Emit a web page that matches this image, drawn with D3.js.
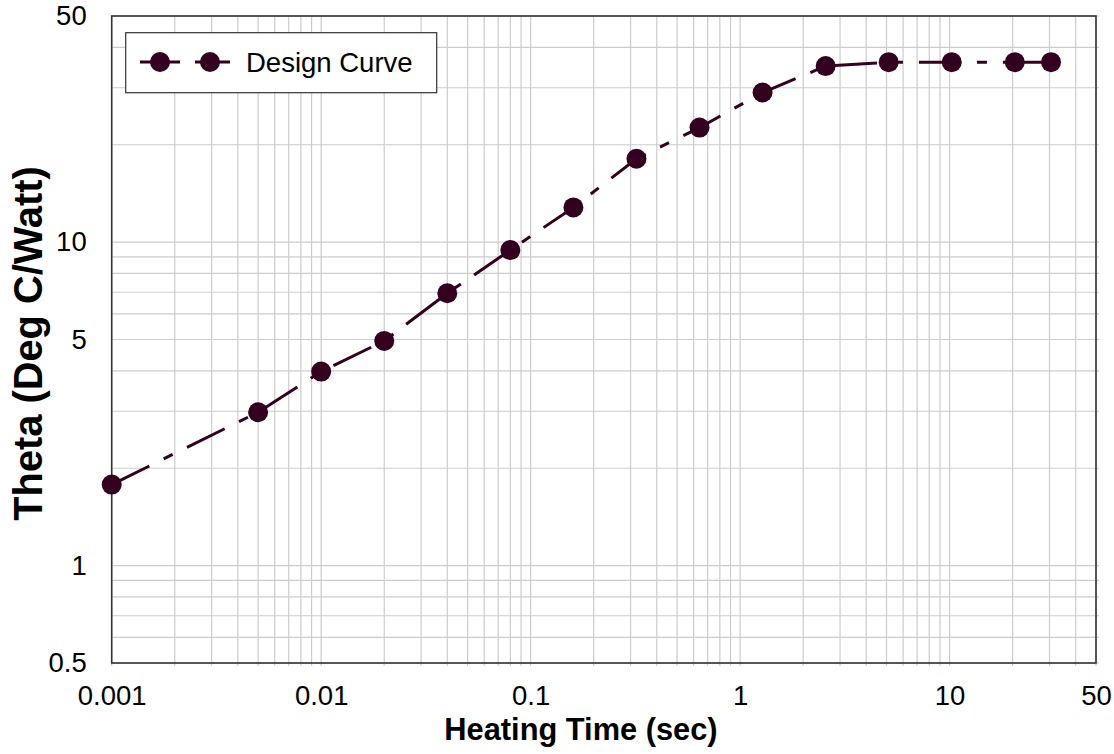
<!DOCTYPE html>
<html>
<head>
<meta charset="utf-8">
<script src="https://cdn.jsdelivr.net/npm/d3@7"></script>
<style>
  body { margin: 0; background: #fff; }
  svg { display: block; font-family: "Liberation Sans", Arial, sans-serif; }
</style>
</head>
<body>
<svg id="chart" width="1114" height="754"></svg>
<script>
// data
var heatingTime = [0.001, 0.005, 0.01, 0.02, 0.04, 0.08, 0.16, 0.32, 0.64, 1.28, 2.56, 5.12, 10.24, 20.48, 30.5];
var theta = [1.78, 2.98, 3.98, 4.95, 6.95, 9.45, 12.8, 18.1, 22.6, 29.0, 35.0, 36.0, 36.0, 36.0, 36.0];

var xTicks = [0.001, 0.01, 0.1, 1, 10, 50];
var yTicks = [0.5, 1, 5, 10, 50];
var xLabel = "Heating Time (sec)";
var yLabel = "Theta (Deg C/Watt)";
var seriesName = "Design Curve";

var plot = { left: 111.7, right: 1096, top: 16, bottom: 663 };
var ink = "#33001f";

var svg = d3.select("#chart");

var x = d3.scaleLog().domain([0.001, 50]).range([plot.left, plot.right]);
var y = d3.scaleLog().domain([0.5, 50]).range([plot.bottom, plot.top]);

// every 1..9 multiple inside the domain
var logGrid = function(domain) {
  var out = [];
  var lo = Math.floor(Math.log10(domain[0]));
  var hi = Math.ceil(Math.log10(domain[1]));
  for (var e = lo; e <= hi; e++) {
    for (var m = 1; m < 10; m++) {
      var v = +(m * Math.pow(10, e)).toPrecision(6);
      if (v >= domain[0] && v <= domain[1]) { out.push(v); }
    }
  }
  return out;
};

var grid = svg.append("g").attr("class", "grid")
  .attr("stroke", "#cccccc")
  .attr("stroke-width", 1.2);

grid.selectAll(".gx")
  .data(logGrid(x.domain()))
  .enter()
  .append("line")
  .attr("x1", function(d) { return x(d); })
  .attr("x2", function(d) { return x(d); })
  .attr("y1", plot.top)
  .attr("y2", plot.bottom + 3);

grid.selectAll(".gy")
  .data(logGrid(y.domain()))
  .enter()
  .append("line")
  .attr("x1", plot.left)
  .attr("x2", plot.right + 3)
  .attr("y1", function(d) { return y(d); })
  .attr("y2", function(d) { return y(d); });

// frame
svg.append("rect")
  .attr("x", plot.left)
  .attr("y", plot.top)
  .attr("width", plot.right - plot.left)
  .attr("height", plot.bottom - plot.top)
  .attr("fill", "none")
  .attr("stroke", "#333")
  .attr("stroke-width", 1.6);

// axes (labels only)
var fmt = function(d) { return String(d); };

var xAxis = svg.append("g")
  .attr("transform", "translate(0," + plot.bottom + ")")
  .call(d3.axisBottom(x).tickValues(xTicks).tickFormat(fmt).tickSize(0).tickPadding(22));

var yAxis = svg.append("g")
  .attr("transform", "translate(" + plot.left + ",0)")
  .call(d3.axisLeft(y).tickValues(yTicks).tickFormat(fmt).tickSize(0).tickPadding(25));

[xAxis, yAxis].forEach(function(a) {
  a.select(".domain").remove();
  a.selectAll("text")
    .attr("font-family", "'Liberation Sans', Arial, sans-serif")
    .attr("font-size", 27.5)
    .attr("fill", "#000");
});

// axis titles
svg.append("text")
  .attr("x", 581)
  .attr("y", 740)
  .attr("text-anchor", "middle")
  .attr("font-size", 30.8)
  .attr("font-weight", "bold")
  .text(xLabel);

svg.append("text")
  .attr("transform", "translate(42,343.5) rotate(-90)")
  .attr("text-anchor", "middle")
  .attr("font-size", 39.8)
  .attr("font-weight", "bold")
  .text(yLabel);

// series
var data = heatingTime.map(function(t, i) { return { t: t, v: theta[i] }; });

var line = d3.line()
  .x(function(d) { return x(d.t); })
  .y(function(d) { return y(d.v); });

svg.append("path")
  .datum(data)
  .attr("d", line)
  .attr("fill", "none")
  .attr("stroke", ink)
  .attr("stroke-width", 3)
  .attr("stroke-dasharray", "42,16,10,16");

svg.selectAll(".pt")
  .data(data)
  .enter()
  .append("circle")
  .attr("class", "pt")
  .attr("cx", function(d) { return x(d.t); })
  .attr("cy", function(d) { return y(d.v); })
  .attr("r", 10)
  .attr("fill", ink);

// legend
var legend = svg.append("g").attr("class", "legend");

legend.append("rect")
  .attr("x", 125.7)
  .attr("y", 32.7)
  .attr("width", 311)
  .attr("height", 60)
  .attr("fill", "#fff")
  .attr("stroke", "#333")
  .attr("stroke-width", 1.2);

legend.append("line")
  .attr("x1", 140)
  .attr("x2", 230)
  .attr("y1", 62)
  .attr("y2", 62)
  .attr("stroke", ink)
  .attr("stroke-width", 3)
  .attr("stroke-dasharray", "40,15");

legend.selectAll(".lpt")
  .data([160, 210])
  .enter()
  .append("circle")
  .attr("cx", function(d) { return d; })
  .attr("cy", 62)
  .attr("r", 10)
  .attr("fill", ink);

legend.append("text")
  .attr("x", 246)
  .attr("y", 62)
  .attr("dy", "0.35em")
  .attr("font-size", 27.5)
  .text(seriesName);
</script>
</body>
</html>
